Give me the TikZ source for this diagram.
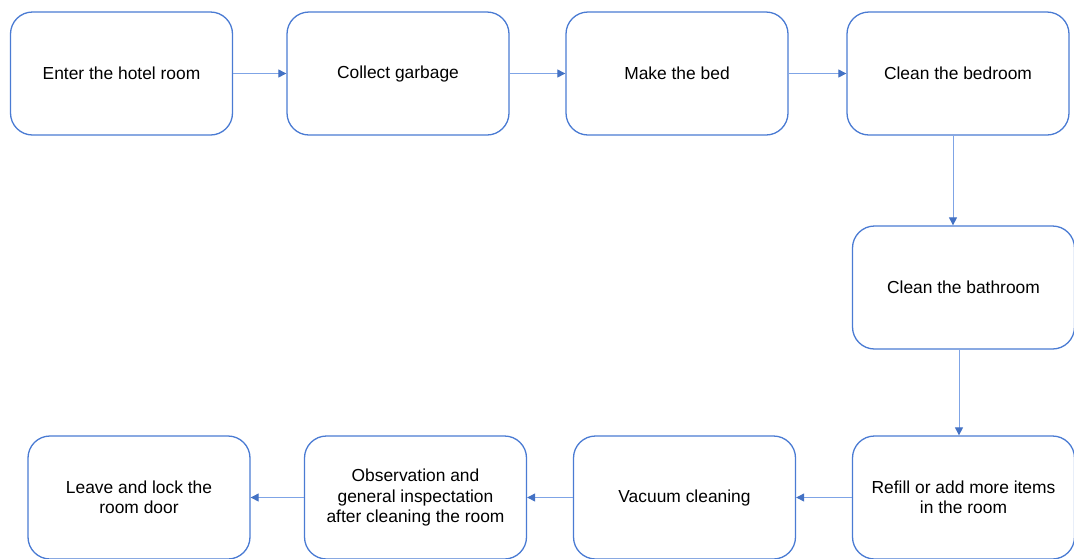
\documentclass[tikz,border=0pt]{standalone}
\usepackage{fontspec}
\setmainfont{Liberation Sans}
\usetikzlibrary{arrows.meta}
\definecolor{boxblue}{HTML}{4A7BD3}
\definecolor{lineblue}{HTML}{7FA4E6}
\definecolor{tipblue}{HTML}{4472C4}
\tikzset{
  stepbox/.style={draw=boxblue, line width=1.3pt, rounded corners=22pt,
    minimum width=222pt, minimum height=123pt, align=center,
    font=\fontsize{17.4}{20.5}\selectfont, text=black, inner sep=0pt},
  flow/.style={draw=lineblue, line width=1pt,
    -{Triangle[length=8pt,width=8pt,fill=tipblue,color=tipblue]}}
}
\begin{document}
\begin{tikzpicture}[x=1pt,y=-1pt]
\useasboundingbox (0,0) rectangle (1074,558);
\node[stepbox] (enter) at (121.5,73.5) {Enter the hotel room};
\node[stepbox] (collect) at (398,73.5) {Collect garbage};
\node[stepbox] (make) at (677,73.5) {Make the bed};
\node[stepbox] (bedroom) at (958,73.5) {Clean the bedroom};
\node[stepbox] (bathroom) at (963.5,287.5) {Clean the bathroom};
\node[stepbox] (refill) at (963.5,497.5) {Refill or add more items\\in the room};
\node[stepbox] (vacuum) at (684.5,497.5) {Vacuum cleaning};
\node[stepbox] (observe) at (415.5,497.5) {Observation and\\general inspectation\\after cleaning the room};
\node[stepbox] (leave) at (139,497.5) {Leave and lock the\\room door};
\draw[flow] (enter) -- (collect);
\draw[flow] (collect) -- (make);
\draw[flow] (make) -- (bedroom);
\draw[flow] ([xshift=-5pt]bedroom.south) -- ([xshift=-5pt]bedroom.south |- bathroom.north);
\draw[flow] ([xshift=-4.5pt]bathroom.south) -- ([xshift=-4.5pt]bathroom.south |- refill.north);
\draw[flow] (refill) -- (vacuum);
\draw[flow] (vacuum) -- (observe);
\draw[flow] (observe) -- (leave);
\end{tikzpicture}
\end{document}
